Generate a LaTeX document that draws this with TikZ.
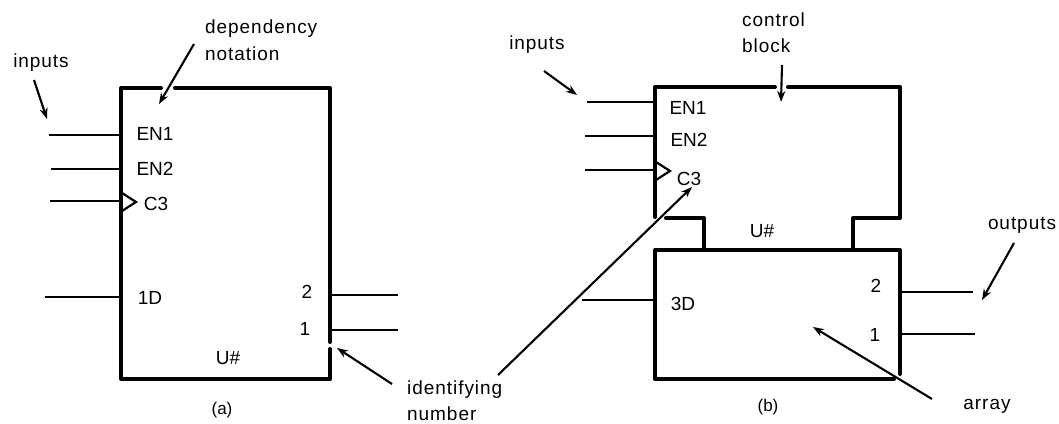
\documentclass[tikz,border=0pt]{standalone}
\usepackage{fontspec}
\setmainfont{Liberation Sans}
\newfontfamily\spacedfont[LetterSpace=5]{Liberation Sans}
\usetikzlibrary{arrows.meta}
\tikzset{
  x=1pt,y=-1pt,
  outline/.style={line width=4pt,line join=round,line cap=round},
  pin/.style={line width=2.2pt},
  clk/.style={line width=2.2pt,line join=miter},
  callout/.style={line width=2.1pt,-{Stealth[length=11pt,width=8pt]}},
  lbl/.style={inner sep=0pt,font=\fontsize{19}{22}\selectfont},
  note/.style={inner sep=0pt,font=\spacedfont\fontsize{19}{22}\selectfont,align=left},
  captext/.style={inner sep=0pt,font=\fontsize{17}{20}\selectfont}
}
\begin{document}
\begin{tikzpicture}
\useasboundingbox (0,0) rectangle (1059,423);
% ---- part (a) corners
\coordinate (aTL) at (121,88);
\coordinate (aTR) at (330,88);
\coordinate (aBL) at (121,379);
\coordinate (aBR) at (330,379);
\coordinate (aG1) at (161,88);
\coordinate (aG2) at (175,88);
\coordinate (aG3) at (330,342);
\coordinate (aG4) at (330,349);
\draw[outline] (aG1) -- (aTL) -- (aBL) -- (aBR) -- (aG4);
\draw[outline] (aG2) -- (aTR) -- (aG3);
% pins (a)
\coordinate (ai1) at (49,135);  \coordinate (ai1e) at (120,135);
\coordinate (ai2) at (51,169);  \coordinate (ai2e) at (120,169);
\coordinate (ai3) at (50,201);  \coordinate (ai3e) at (121,201);
\coordinate (ai4) at (45,297);  \coordinate (ai4e) at (120,297);
\coordinate (ao2) at (331,295); \coordinate (ao2e) at (398,295);
\coordinate (ao1) at (331,330); \coordinate (ao1e) at (398,330);
\draw[pin] (ai1) -- (ai1e);
\draw[pin] (ai2) -- (ai2e);
\draw[pin] (ai3) -- (ai3e);
\draw[pin] (ai4) -- (ai4e);
\draw[pin] (ao2) -- (ao2e);
\draw[pin] (ao1) -- (ao1e);
\coordinate (act) at (122,193); \coordinate (acm) at (136,202); \coordinate (acb) at (122,211);
\draw[clk] (act) -- (acm) -- (acb);
% texts (a)
\node[lbl] (aEN1) at (155,134) {EN1};
\node[lbl] (aEN2) at (155,169) {EN2};
\node[lbl] (aC3) at (156,204) {C3};
\node[lbl] (a1D) at (150,298) {1D};
\node[lbl] (a2) at (307,292) {2};
\node[lbl] (a1) at (305,329) {1};
\node[lbl] (aU) at (228,358) {U\#};
\node[captext] (aCap) at (222,410) {(a)};
\node[note] (aInputs) at (41,63) {inputs};
\node[note,anchor=west] (aDep) at (205,29) {dependency};
\node[note,anchor=west] (aNot) at (205,54) {notation};
\coordinate (aInS) at (34,80);   \coordinate (aInT) at (47,119);
\coordinate (aDepS) at (194,44); \coordinate (aDepT) at (159,104);
\coordinate (idS1) at (392,384); \coordinate (idT1) at (337,348);
\draw[callout] (aInS) -- (aInT);
\draw[callout] (aDepS) -- (aDepT);
\draw[callout] (idS1) -- (idT1);
% identifying number
\node[note,anchor=west] (idA) at (407,390) {identifying};
\node[note,anchor=west] (idB) at (407,414) {number};
% ---- part (b)
\coordinate (bTL) at (655,87);
\coordinate (bTR) at (900,87);
\coordinate (bLe) at (655,217);
\coordinate (bNa) at (666,218);
\coordinate (bNb) at (704,218);
\coordinate (bNc) at (704,250);
\coordinate (bRa) at (900,218);
\coordinate (bRb) at (853,218);
\coordinate (bRc) at (853,250);
\coordinate (bML) at (655,250);
\coordinate (bMR) at (900,250);
\coordinate (bBL) at (655,379);
\coordinate (bBE) at (894,379);
\coordinate (bRE) at (900,374);
\coordinate (bG1) at (775,87);
\coordinate (bG2) at (788,87);
\draw[outline] (bLe) -- (bTL) -- (bG1);
\draw[outline] (bG2) -- (bTR) -- (bRa) -- (bRb) -- (bRc);
\draw[outline] (bNa) -- (bNb) -- (bNc);
\draw[outline] (bBE) -- (bBL) -- (bML) -- (bMR) -- (bRE);
% pins (b)
\coordinate (bi1) at (587,102); \coordinate (bi1e) at (654,102);
\coordinate (bi2) at (585,136); \coordinate (bi2e) at (654,136);
\coordinate (bi3) at (585,170); \coordinate (bi3e) at (654,170);
\coordinate (bi4) at (582,300); \coordinate (bi4e) at (654,300);
\coordinate (bo2) at (901,292); \coordinate (bo2e) at (973,292);
\coordinate (bo1) at (901,334); \coordinate (bo1e) at (975,334);
\draw[pin] (bi1) -- (bi1e);
\draw[pin] (bi2) -- (bi2e);
\draw[pin] (bi3) -- (bi3e);
\draw[pin] (bi4) -- (bi4e);
\draw[pin] (bo2) -- (bo2e);
\draw[pin] (bo1) -- (bo1e);
\coordinate (bct) at (656,162); \coordinate (bcm) at (670,171); \coordinate (bcb) at (656,180);
\draw[clk] (bct) -- (bcm) -- (bcb);
% texts (b)
\node[lbl] (bEN1) at (688,108) {EN1};
\node[lbl] (bEN2) at (689,140) {EN2};
\node[lbl] (bC3) at (689,179) {C3};
\node[lbl] (b3D) at (683,304) {3D};
\node[lbl] (b2) at (876,286) {2};
\node[lbl] (b1) at (875,335) {1};
\node[lbl] (bU) at (762,231) {U\#};
\node[captext] (bCap) at (768,407) {(b)};
\node[note] (bInputs) at (537,45) {inputs};
\node[note,anchor=west] (bCon) at (742,20) {control};
\node[note,anchor=west] (bBlk) at (742,46) {block};
\node[note] (bOut) at (1022,225) {outputs};
\node[note] (bArr) at (987,406) {array};
\coordinate (bInS) at (544,71);   \coordinate (bInT) at (577,95);
\coordinate (bConS) at (782,65);  \coordinate (bConT) at (781,102);
\coordinate (idS2) at (498,375);  \coordinate (idT2) at (692,187);
\coordinate (bOutS) at (1014,243);\coordinate (bOutT) at (982,300);
\coordinate (bArrS) at (932,399); \coordinate (bArrT) at (813,327);
\draw[callout] (bInS) -- (bInT);
\draw[callout] (bConS) -- (bConT);
\draw[callout] (idS2) -- (idT2);
\draw[callout] (bOutS) -- (bOutT);
\draw[callout] (bArrS) -- (bArrT);
\end{tikzpicture}
\end{document}
